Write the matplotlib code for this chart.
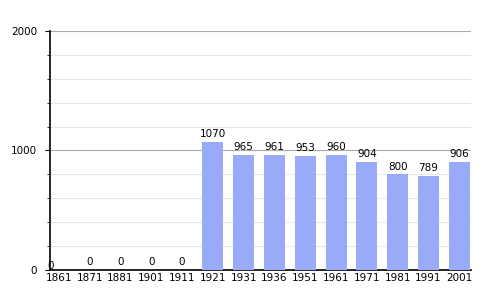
import numpy as np
import matplotlib.pyplot as plt
from matplotlib.ticker import MultipleLocator

years = ["1861", "1871", "1881", "1901", "1911", "1921", "1931", "1936",
         "1951", "1961", "1971", "1981", "1991", "2001"]
population = [0, 0, 0, 0, 0, 1070, 965, 961, 953, 960, 904, 800, 789, 906]

fig = plt.figure(figsize=(5, 3), dpi=100)
ax = fig.add_axes([0.1, 0.1, 0.842, 0.797])

x = np.arange(len(years))
ax.bar(x, population, width=0.68, color='#99aaf8', zorder=3)

# etiquettes de valeur
for i, v in enumerate(population):
    dx = -6 if i == 0 else 0
    dy = -1 if i == 0 else 2
    ax.annotate(str(v), (x[i], v), xytext=(dx, dy), textcoords='offset points',
                ha='center', va='bottom', fontsize=7.5, zorder=4)

ax.set_xlim(-0.29, 13.38)
ax.set_ylim(0, 2000)
ax.set_xticks(x)
ax.set_xticklabels(years, fontsize=7.5)
ax.yaxis.set_major_locator(MultipleLocator(1000))
ax.yaxis.set_minor_locator(MultipleLocator(200))
ax.tick_params(axis='y', which='major', length=3.6, labelsize=7.5, pad=5.5)
ax.tick_params(axis='y', which='minor', length=2.2)
ax.tick_params(axis='x', length=0, pad=2)
ax.grid(axis='y', which='minor', color='#e6e6e6', lw=0.8, zorder=0)
ax.grid(axis='y', which='major', color='#aaaaaa', lw=0.8, zorder=0)
for s in ['top', 'right']:
    ax.spines[s].set_visible(False)
ax.spines['left'].set_linewidth(1.2)
ax.spines['bottom'].set_linewidth(1.2)

plt.savefig("out.png")
